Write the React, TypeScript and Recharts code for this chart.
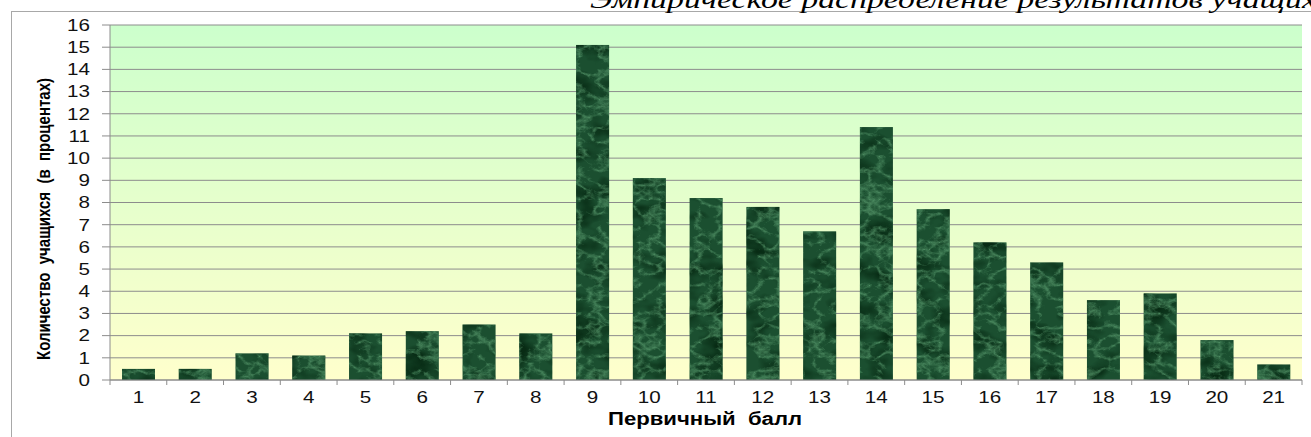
import React from 'react';
import { BarChart, Bar, XAxis, YAxis, CartesianGrid } from 'recharts';

const scores = ['1', '2', '3', '4', '5', '6', '7', '8', '9', '10', '11', '12', '13', '14', '15', '16', '17', '18', '19', '20', '21'];
const percents = [0.5, 0.5, 1.2, 1.1, 2.1, 2.2, 2.5, 2.1, 15.1, 9.1, 8.2, 7.8, 6.7, 11.4, 7.7, 6.2, 5.3, 3.6, 3.9, 1.8, 0.7];
const yTicks = [0, 1, 2, 3, 4, 5, 6, 7, 8, 9, 10, 11, 12, 13, 14, 15, 16];
const titleText = 'Эмпирическое распределение результатов учащихся';
const xTitle = 'Первичный  балл';
const yTitle = 'Количество  учащихся  (в  процентах)';

const data = scores.map((s, i) => ({ score: s, value: percents[i] }));

const W = 1311;
const H = 437;
const MARGIN = { top: 25, right: 9, bottom: 0, left: 0 };
const Y_AXIS_W = 110;
const X_AXIS_H = 57;
const BAND = (W - Y_AXIS_W - MARGIN.right) / scores.length;
const X_TICK_SIZE = 5;
const X_TICK_MARGIN = 7;
const STRETCH = 1.25;
const SANS = "'Liberation Sans', Arial, sans-serif";

const XTick = (props: any) => {
  const { x, y, payload, index } = props;
  const axisY = y - X_TICK_SIZE - X_TICK_MARGIN;
  return (
    <g>
      <line x1={x - BAND / 2} x2={x - BAND / 2} y1={axisY} y2={axisY + X_TICK_SIZE} stroke="#8c8c8c" />
      {index === scores.length - 1 && (
        <line x1={x + BAND / 2} x2={x + BAND / 2} y1={axisY} y2={axisY + X_TICK_SIZE} stroke="#8c8c8c" />
      )}
      <text
        transform={`translate(${x},${y}) scale(${STRETCH},1)`}
        x={0}
        y={0}
        dy="0.68em"
        textAnchor="middle"
        fill="#111"
        fontSize={16.5}
        fontFamily={SANS}
      >
        {payload.value}
      </text>
    </g>
  );
};

const YTick = (props: any) => {
  const { x, y, payload } = props;
  return (
    <text
      transform={`translate(${x},${y}) scale(${STRETCH},1)`}
      x={0}
      y={0}
      dy="0.355em"
      textAnchor="end"
      fill="#111"
      fontSize={16.5}
      fontFamily={SANS}
    >
      {payload.value}
    </text>
  );
};

const MarbleBar = (props: any) => {
  const { x, y, width, height } = props;
  if (!height || height <= 0) return null;
  return (
    <g>
      <rect x={x} y={y} width={width} height={height} fill="#1b4f30" />
      <rect x={x} y={y} width={width} height={height} fill="#1b4f30" filter="url(#marble)" />
    </g>
  );
};

export default function App() {
  return (
    <div style={{ position: 'fixed', left: 0, top: 0, width: W, height: H, overflow: 'hidden', background: '#fff' }}>
      <svg width={W} height={H} style={{ position: 'absolute', left: 0, top: 0 }}>
        <rect x={11.5} y={11.5} width={W + 20} height={H + 20} fill="none" stroke="#a8a8a8" strokeWidth={1} />
      </svg>
      <div style={{ position: 'absolute', left: 0, top: 0 }}>
        <BarChart width={W} height={H} data={data} margin={MARGIN}>
          <defs>
            <linearGradient id="bg" x1="0" y1="0" x2="0" y2="1">
              <stop offset="0%" stopColor="#ccffcc" />
              <stop offset="100%" stopColor="#ffffcc" />
            </linearGradient>
            <filter id="marble" x="0" y="0" width="100%" height="100%" colorInterpolationFilters="sRGB">
              <feTurbulence type="fractalNoise" baseFrequency="0.03 0.05" numOctaves={3} seed={3} result="n2" />
              <feColorMatrix
                in="n2"
                type="matrix"
                values="0 0 0 0 0.03  0 0 0 0 0.17  0 0 0 0 0.08  2.6 0 0 0 -1.15"
                result="dark"
              />
              <feTurbulence type="turbulence" baseFrequency="0.05 0.07" numOctaves={4} seed={7} result="n1" />
              <feColorMatrix
                in="n1"
                type="matrix"
                values="0 0 0 0 0.36  0 0 0 0 0.62  0 0 0 0 0.44  -2.4 0 0 0 0.75"
                result="veins"
              />
              <feMerge result="tex">
                <feMergeNode in="dark" />
                <feMergeNode in="veins" />
              </feMerge>
              <feComposite in="tex" in2="SourceGraphic" operator="in" />
            </filter>
          </defs>
          <CartesianGrid vertical={false} stroke="#8c8c8c" fill="url(#bg)" fillOpacity={1} />
          <XAxis
            dataKey="score"
            height={X_AXIS_H}
            interval={0}
            tickSize={X_TICK_SIZE}
            tickMargin={X_TICK_MARGIN}
            tickLine={false}
            axisLine={{ stroke: '#8c8c8c' }}
            tick={<XTick />}
          />
          <YAxis
            width={Y_AXIS_W}
            domain={[0, 16]}
            ticks={yTicks}
            interval={0}
            tickSize={8}
            tickMargin={12}
            axisLine={{ stroke: '#8c8c8c' }}
            tickLine={{ stroke: '#8c8c8c' }}
            tick={<YTick />}
          />
          <Bar dataKey="value" barSize={33} isAnimationActive={false} shape={<MarbleBar />} />
        </BarChart>
      </div>
      <svg width={W} height={H} style={{ position: 'absolute', left: 0, top: 0, pointerEvents: 'none' }}>
        <text
          transform="translate(590,8) scale(1.3,1)"
          x={0}
          y={0}
          fontFamily="'Liberation Serif', 'Times New Roman', serif"
          fontStyle="italic"
          fontSize={26}
          fill="#000"
        >
          {titleText}
        </text>
        <text
          x={705}
          y={425}
          textAnchor="middle"
          fontFamily={SANS}
          fontWeight="bold"
          fontSize={18}
          fill="#000"
          textLength={194}
          lengthAdjust="spacingAndGlyphs"
          style={{ whiteSpace: 'pre' }}
        >
          {xTitle}
        </text>
        <text
          x={44}
          y={219}
          transform="rotate(-90 44 219)"
          textAnchor="middle"
          dominantBaseline="central"
          fontFamily="'Liberation Sans Narrow', 'Arial Narrow', 'Liberation Sans', sans-serif"
          fontWeight="bold"
          fontSize={18}
          fill="#000"
          textLength={282}
          lengthAdjust="spacingAndGlyphs"
          style={{ whiteSpace: 'pre' }}
        >
          {yTitle}
        </text>
      </svg>
    </div>
  );
}
